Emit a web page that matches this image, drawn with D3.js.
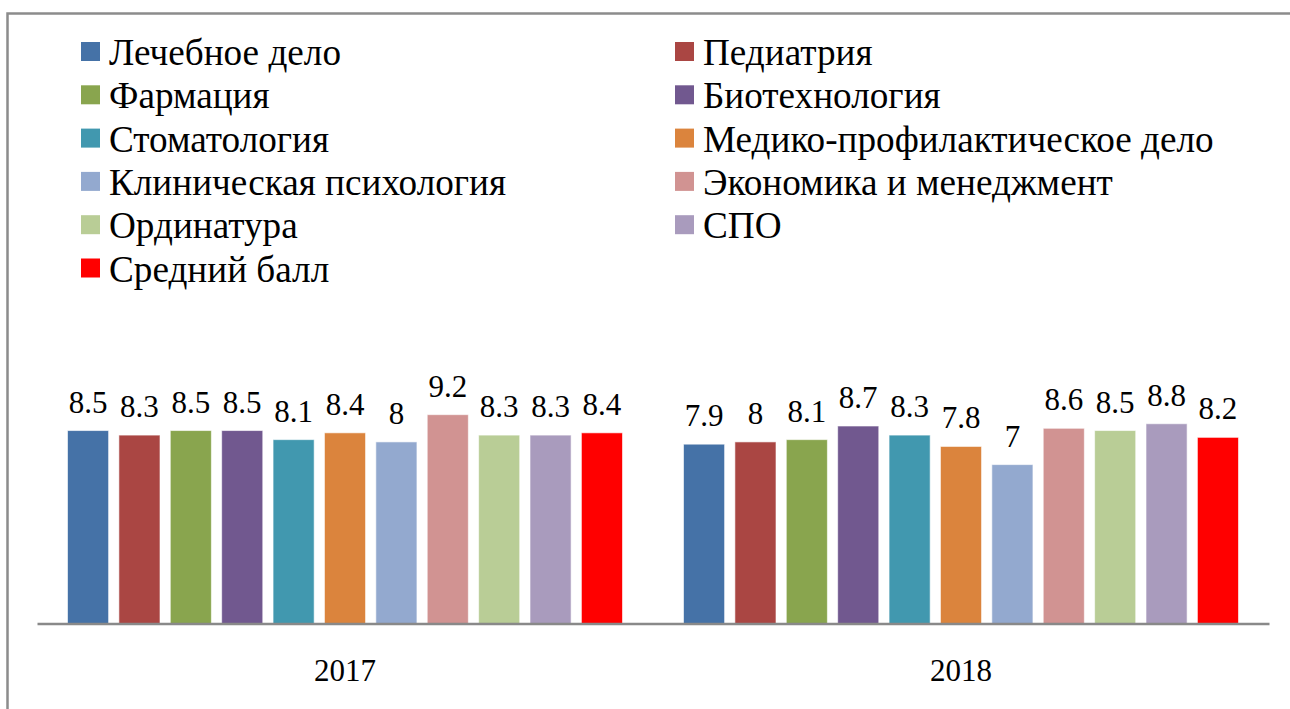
<!DOCTYPE html>
<html>
<head>
<meta charset="utf-8">
<script src="https://cdn.jsdelivr.net/npm/d3@7"></script>
<style>
  body { margin: 0; background: #fff; }
</style>
</head>
<body>
<div id="chart"></div>
<script>
var years = ["2017", "2018"];
var series = [
  "Лечебное дело", "Педиатрия", "Фармация", "Биотехнология", "Стоматология",
  "Медико-профилактическое дело", "Клиническая психология", "Экономика и менеджмент",
  "Ординатура", "СПО", "Средний балл"
];
var values2017 = [8.5, 8.3, 8.5, 8.5, 8.1, 8.4, 8, 9.2, 8.3, 8.3, 8.4];
var values2018 = [7.9, 8, 8.1, 8.7, 8.3, 7.8, 7, 8.6, 8.5, 8.8, 8.2];
var colors = ["#4572A7", "#AA4643", "#89A54E", "#71588F", "#4198AF", "#DB843D",
              "#93A9CF", "#D19392", "#B9CD96", "#A99BBD", "#FF0000"];

var width = 1290, height = 709;
var serif = "Liberation Serif";

var svg = d3.select("#chart")
    .append("svg")
    .attr("width", width)
    .attr("height", height)
    .attr("font-family", serif);

// outer frame
svg.append("rect")
    .attr("x", 7.5)
    .attr("y", 13.5)
    .attr("width", 1300)
    .attr("height", 720)
    .attr("fill", "none")
    .attr("stroke", "#8c8c8c")
    .attr("stroke-width", 2.5);

var rows = years.map(function(y, i) {
  return { year: y, values: i === 0 ? values2017 : values2018 };
});

var x0 = d3.scaleBand().domain(years).range([37, 1269]);
var x1 = d3.scaleBand().domain(series)
    .range([30.5, x0.bandwidth() - 30.5])
    .paddingInner(0.2);
var y = d3.scaleLinear().domain([0, 10]).range([623.5, 396.5]);

var group = svg.selectAll(".year")
    .data(rows)
    .enter()
    .append("g")
    .attr("class", "year")
    .attr("transform", function(d) { return "translate(" + x0(d.year) + ",0)"; });

var bars = group.selectAll(".bar")
    .data(function(d) { return d.values.map(function(v, i) { return { name: series[i], value: v, i: i }; }); })
    .enter();

bars.append("rect")
    .attr("x", function(d) { return x1(d.name); })
    .attr("y", function(d) { return y(d.value); })
    .attr("width", x1.bandwidth())
    .attr("height", function(d) { return y(0) - y(d.value); })
    .attr("fill", function(d) { return colors[d.i]; })
    .attr("stroke", "rgba(255,255,255,0.6)")
    .attr("stroke-width", 1);

bars.append("text")
    .attr("x", function(d) { return x1(d.name) + x1.bandwidth() / 2; })
    .attr("y", function(d) { return y(d.value) - 18; })
    .attr("text-anchor", "middle")
    .attr("font-family", serif)
    .attr("font-size", 31)
    .attr("fill", "#000")
    .text(function(d) { return d.value; });

// category axis
var axis = svg.append("g")
    .attr("transform", "translate(0," + y(0) + ")")
    .call(d3.axisBottom(x0).tickSize(0).tickPadding(0));
axis.attr("font-family", serif);
axis.select(".domain").attr("stroke", "#898989").attr("stroke-width", 2.5);
axis.selectAll("text")
    .attr("font-family", serif)
    .attr("font-size", 31)
    .attr("fill", "#000")
    .attr("dy", null)
    .attr("y", 57.5);

// legend, two columns
var legend = svg.selectAll(".legend")
    .data(series)
    .enter()
    .append("g")
    .attr("class", "legend")
    .attr("transform", function(d, i) {
      var col = i % 2, row = Math.floor(i / 2);
      return "translate(" + (col ? 675 : 81) + "," + (65 + row * 43.3) + ")";
    });

legend.append("rect")
    .attr("x", 0)
    .attr("y", -23)
    .attr("width", 19)
    .attr("height", 19)
    .attr("fill", function(d, i) { return colors[i]; });

legend.append("text")
    .attr("x", 28)
    .attr("y", 0)
    .attr("font-family", serif)
    .attr("font-size", 37.2)
    .attr("fill", "#000")
    .text(function(d) { return d; });
</script>
</body>
</html>
